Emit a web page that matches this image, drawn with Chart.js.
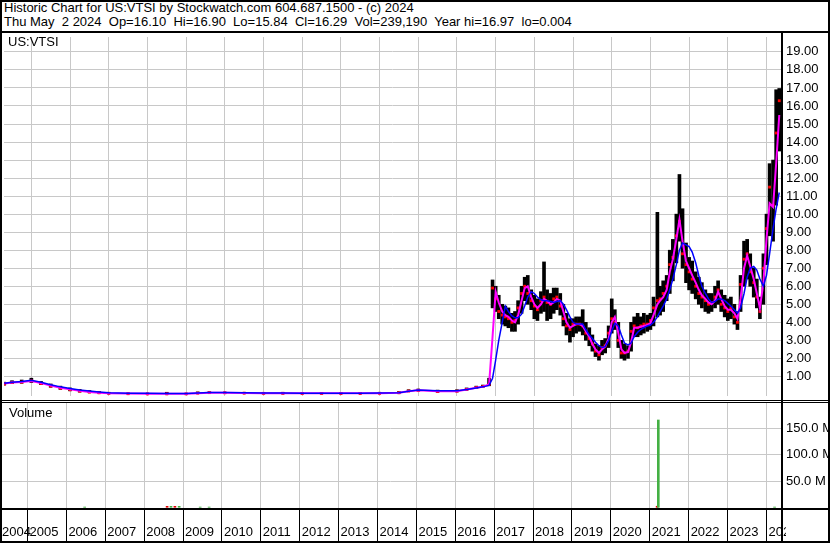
<!DOCTYPE html>
<html>
<head>
<meta charset="utf-8">
<title>Historic Chart for US:VTSI</title>
<script src="https://cdn.jsdelivr.net/npm/chart.js@4.4.1/dist/chart.umd.min.js"></script>
<style>
    html, body { margin: 0; padding: 0; background: #fff; }
    body {
        position: relative;
        width: 830px;
        height: 543px;
        overflow: hidden;
        font-family: 'Liberation Sans', Arial, sans-serif;
        font-size: 13px;
        color: #000;
    }
    canvas { position: absolute; left: 0; }
    #priceChart { top: 33px; }
    #volumeChart { top: 403px; }
    .text { position: absolute; white-space: pre; line-height: 14px; z-index: 3; }
    .rule { position: absolute; background: #000; z-index: 2; }
    #frame {
        position: absolute; left: 0; top: 0; width: 830px; height: 543px;
        box-sizing: border-box; border: 2px solid #000; z-index: 4;
    }
</style>
</head>
<body>
<div class="text" style="left:4px; top:1px;">Historic Chart for US:VTSI by Stockwatch.com 604.687.1500 - (c) 2024
Thu May  2 2024  Op=16.10  Hi=16.90  Lo=15.84  Cl=16.29  Vol=239,190  Year hi=16.97  lo=0.004</div>
<div class="text" style="left:8px; top:35px;">US:VTSI</div>
<div class="text" style="left:9px; top:406px;">Volume</div>

<canvas id="priceChart" width="830" height="367"></canvas>
<canvas id="volumeChart" width="830" height="140"></canvas>

<div class="rule" style="left:0; top:31px; width:830px; height:2px;"></div>
<div class="rule" style="left:781px; top:31px; width:2px; height:512px;"></div>
<div class="rule" style="left:0; top:400px; width:830px; height:1px;"></div>
<div class="rule" style="left:0; top:402px; width:830px; height:1px;"></div>
<div class="rule" style="left:0; top:508px; width:830px; height:2px;"></div>
<div style="position:absolute; left:786px; top:510px; width:42px; height:31px; background:#fff; z-index:1;"></div>
<div id="frame"></div>

<script>
// decimal years; quarterly while the stock sat near zero, monthly after the 2016 jump
const dates = [
    2004.3, 2004.5, 2004.75, 2005.0, 2005.25, 2005.5, 2005.75, 2006.0, 2006.25, 2006.5, 2006.75, 2007.0,
    2007.5, 2008.0, 2008.5, 2009.0, 2009.3, 2009.6, 2010.0, 2010.5, 2011.0, 2011.5, 2012.0, 2012.5,
    2013.0, 2013.5, 2014.0, 2014.5, 2014.75, 2015.0, 2015.5, 2016.0, 2016.25, 2016.5, 2016.67, 2016.83,
    2016.92,
    2017.0, 2017.08, 2017.17, 2017.25, 2017.33, 2017.42, 2017.5, 2017.58, 2017.67, 2017.75, 2017.83, 2017.92,
    2018.0, 2018.08, 2018.17, 2018.25, 2018.33, 2018.42, 2018.5, 2018.58, 2018.67, 2018.75, 2018.83, 2018.92,
    2019.0, 2019.08, 2019.17, 2019.25, 2019.33, 2019.42, 2019.5, 2019.58, 2019.67, 2019.75, 2019.83, 2019.92,
    2020.0, 2020.08, 2020.17, 2020.25, 2020.33, 2020.42, 2020.5, 2020.58, 2020.67, 2020.75, 2020.83, 2020.92,
    2021.0, 2021.08, 2021.18, 2021.25, 2021.33, 2021.42, 2021.5, 2021.58, 2021.67, 2021.75, 2021.83, 2021.92,
    2022.0, 2022.08, 2022.17, 2022.25, 2022.33, 2022.42, 2022.5, 2022.58, 2022.67, 2022.75, 2022.83, 2022.92,
    2023.0, 2023.08, 2023.17, 2023.25, 2023.33, 2023.42, 2023.5, 2023.58, 2023.67, 2023.75, 2023.83, 2023.92,
    2024.0, 2024.08, 2024.17, 2024.25, 2024.33,
];

const lows = [
    0.52, 0.6, 0.62, 0.66, 0.54, 0.4, 0.28, 0.2, 0.13, 0.09, 0.06, 0.03,
    0.02, 0.01, 0.01, 0.01, 0.04, 0.07, 0.06, 0.04, 0.03, 0.03, 0.03, 0.03,
    0.03, 0.03, 0.04, 0.06, 0.15, 0.18, 0.12, 0.14, 0.23, 0.33, 0.4, 0.48,
    4.8,
    4.6, 4.2, 3.9, 3.8, 3.7, 3.5, 3.5, 3.9, 4.5, 5.2, 5.0, 4.7,
    4.2, 4.1, 4.5, 4.6, 4.1, 4.2, 4.5, 4.7, 4.4, 3.8, 3.3, 2.9,
    3.2, 3.4, 3.5, 3.3, 3.0, 2.7, 2.4, 2.1, 1.9, 2.2, 2.3, 2.6,
    3.4, 3.6, 2.6, 2.0, 1.9, 2.0, 2.4, 3.2, 3.2, 3.3, 3.4, 3.5,
    3.6, 3.8, 4.3, 4.4, 4.6, 5.2, 5.6, 6.3, 7.3, 8.5, 7.0, 6.2,
    5.8, 5.6, 5.3, 5.0, 4.8, 4.6, 4.5, 4.6, 4.8, 5.0, 4.6, 4.3,
    4.1, 4.2, 3.9, 3.6, 4.6, 6.0, 6.4, 6.0, 5.4, 4.8, 4.2, 5.0,
    7.2, 8.8, 8.5, 10.5, 13.5,
];

const highs = [
    0.68, 0.76, 0.8, 0.9, 0.72, 0.58, 0.46, 0.36, 0.28, 0.22, 0.17, 0.12,
    0.08, 0.07, 0.12, 0.07, 0.14, 0.15, 0.13, 0.12, 0.11, 0.12, 0.1, 0.1,
    0.1, 0.1, 0.12, 0.16, 0.26, 0.3, 0.24, 0.26, 0.36, 0.46, 0.52, 0.9,
    6.35,
    6.0, 5.5, 5.0, 4.9, 4.8, 4.5, 4.6, 5.2, 6.0, 6.5, 6.6, 5.8,
    5.5, 5.3, 5.7, 7.35, 5.8, 5.6, 5.9, 5.9, 5.6, 5.0, 4.5, 4.2,
    4.2, 4.3, 4.3, 4.7, 4.0, 3.7, 3.3, 2.8, 2.7, 3.0, 3.1, 3.8,
    5.3, 4.7, 4.0, 3.0, 2.8, 2.7, 4.0, 4.3, 4.5, 4.3, 4.5, 4.4,
    4.5, 5.4, 10.1, 6.0, 6.3, 6.6, 8.0, 8.6, 10.0, 12.2, 10.3, 8.4,
    7.6, 7.4, 6.8, 6.5, 6.2, 5.8, 5.6, 5.6, 6.0, 6.3, 5.8, 5.5,
    5.3, 5.4, 5.0, 4.6, 6.6, 8.5, 8.6, 7.8, 7.0, 6.4, 5.4, 7.8,
    10.0, 12.8, 13.0, 16.9, 16.97,
];

const closes = [
    0.58, 0.66, 0.68, 0.76, 0.6, 0.46, 0.34, 0.26, 0.18, 0.13, 0.09, 0.06,
    0.04, 0.03, 0.03, 0.03, 0.07, 0.1, 0.09, 0.07, 0.06, 0.06, 0.05, 0.05,
    0.05, 0.05, 0.06, 0.09, 0.19, 0.23, 0.16, 0.18, 0.28, 0.38, 0.44, 0.55,
    5.9,
    5.3, 4.6, 4.4, 4.3, 4.2, 4.0, 4.1, 4.8, 5.6, 6.0, 5.6, 5.2,
    4.9, 4.7, 5.2, 5.4, 5.1, 5.0, 5.3, 5.4, 4.9, 4.2, 3.8, 3.6,
    3.9, 3.9, 3.9, 3.8, 3.4, 3.1, 2.8, 2.4, 2.2, 2.6, 2.7, 3.4,
    4.2, 4.0, 3.0, 2.3, 2.3, 2.4, 3.5, 3.8, 3.7, 3.8, 3.9, 3.9,
    4.1, 4.8, 5.2, 5.3, 5.6, 6.0, 7.2, 7.6, 8.8, 9.6, 7.8, 7.2,
    6.8, 6.4, 6.0, 5.6, 5.4, 5.2, 5.0, 5.1, 5.4, 5.8, 5.0, 4.8,
    4.6, 4.8, 4.3, 4.0, 6.1, 7.5, 7.8, 6.8, 6.2, 5.4, 4.6, 7.0,
    9.2, 11.5, 10.5, 14.5, 16.29,
];

// magenta short average
const fastAvg = [
    0.6, 0.66, 0.69, 0.75, 0.63, 0.49, 0.37, 0.28, 0.2, 0.14, 0.1, 0.07,
    0.05, 0.04, 0.04, 0.04, 0.07, 0.1, 0.1, 0.08, 0.07, 0.07, 0.06, 0.06,
    0.06, 0.06, 0.07, 0.09, 0.18, 0.23, 0.18, 0.18, 0.27, 0.37, 0.43, 0.55,
    3.2,
    5.7, 5.1, 4.6, 4.4, 4.3, 4.1, 4.0, 4.4, 5.2, 5.9, 6.0, 5.4,
    5.0, 4.8, 5.0, 5.3, 5.2, 5.0, 5.1, 5.3, 5.2, 4.6, 4.0, 3.7,
    3.8, 3.9, 3.9, 3.8, 3.5, 3.2, 2.8, 2.5, 2.3, 2.5, 2.65, 3.1,
    4.0, 4.3, 3.4, 2.5, 2.3, 2.35, 2.9, 3.7, 3.7, 3.75, 3.8, 3.85,
    3.95, 4.4, 5.0, 5.2, 5.4, 5.8, 6.8, 7.5, 8.6, 9.7, 8.5, 7.4,
    7.0, 6.6, 6.2, 5.8, 5.5, 5.3, 5.1, 5.0, 5.2, 5.7, 5.3, 4.9,
    4.7, 4.7, 4.5, 4.2, 5.3, 7.0, 7.7, 7.1, 6.4, 5.6, 4.8, 6.2,
    8.6, 10.6, 10.4, 12.8, 15.5,
];

// blue long average
const slowAvg = [
    0.62, 0.68, 0.72, 0.78, 0.68, 0.54, 0.42, 0.33, 0.25, 0.19, 0.14, 0.1,
    0.07, 0.06, 0.05, 0.05, 0.08, 0.11, 0.11, 0.09, 0.08, 0.08, 0.07, 0.07,
    0.07, 0.07, 0.08, 0.1, 0.18, 0.24, 0.2, 0.2, 0.27, 0.36, 0.42, 0.5,
    0.9,
    1.9, 3.0, 4.0, 4.9, 4.6, 4.35, 4.25, 4.25, 4.45, 4.9, 5.4, 5.7,
    5.6, 5.4, 5.25, 5.2, 5.2, 5.15, 5.1, 5.15, 5.2, 5.0, 4.7, 4.3,
    4.0, 3.9, 3.9, 3.9, 3.6, 3.3, 3.1, 2.9, 2.7, 2.6, 2.65, 3.0,
    3.5, 3.95, 3.8, 3.3, 2.85, 2.75, 2.85, 3.2, 3.45, 3.6, 3.7, 3.8,
    3.85, 4.0, 4.3, 4.6, 4.9, 5.3, 5.8, 6.4, 7.2, 8.0, 8.4, 8.3,
    8.2, 7.9, 7.3, 6.6, 6.0, 5.6, 5.3, 5.1, 5.15, 5.3, 5.3, 5.2,
    5.05, 4.9, 4.7, 4.5, 4.8, 5.6, 6.5, 7.0, 7.1, 6.9, 6.4, 6.0,
    6.6, 7.8, 9.2, 10.3, 11.2,
];

const volDates = [2006.47, 2008.59, 2008.69, 2008.79, 2008.9, 2009.44, 2009.67, 2021.19, 2021.22, 2024.21];
const volumes = [0.5e6, 1.8e6, 1.8e6, 1.8e6, 1.8e6, 0.5e6, 0.5e6, 2e6, 166e6, 0.5e6];
const volUp = [true, false, true, false, true, true, true, false, true, true];

const yearTicks = [2005, 2006, 2007, 2008, 2009, 2010, 2011, 2012, 2013, 2014,
    2015, 2016, 2017, 2018, 2019, 2020, 2021, 2022, 2023, 2024];
const priceTicks = [1, 2, 3, 4, 5, 6, 7, 8, 9, 10, 11, 12, 13, 14, 15, 16, 17, 18, 19];
const volumeTicks = [50e6, 100e6, 150e6];

const xMin = 2004.293;
const xMax = 2024.375;
const gridColor = '#c8c8c8';

document.addEventListener('DOMContentLoaded', () => {
    Chart.defaults.font.family = "'Liberation Sans', Arial, sans-serif";
    Chart.defaults.font.size = 13;
    Chart.defaults.color = '#000';

    const baseOptions = {
        responsive: false,
        animation: false,
        devicePixelRatio: 1,
        events: [],
        layout: { padding: 0 },
        plugins: { legend: { display: false }, tooltip: { enabled: false } },
    };

    // the plot area has to fill the canvas exactly, so drop the label overhang padding
    const noPadding = (scale) => {
        scale.paddingTop = 0;
        scale.paddingBottom = 0;
        scale.paddingLeft = 0;
        scale.paddingRight = 0;
    };

    const rightAxis = (min, max, ticks, format) => ({
        position: 'right',
        min,
        max,
        afterBuildTicks: (scale) => { scale.ticks = ticks.map((value) => ({ value })); },
        afterFit: (scale) => {
            scale.width = 49;
            noPadding(scale);
        },
        grid: { color: gridColor, drawTicks: false },
        border: { display: false },
        ticks: { padding: 5, callback: format },
    });

    const timeAxis = (height, extra) => ({
        type: 'linear',
        min: xMin,
        max: xMax,
        offset: false,
        afterFit: (scale) => {
            scale.height = height;
            noPadding(scale);
        },
        border: { display: false },
        ...extra,
    });

    new Chart(document.getElementById('priceChart'), {
        type: 'bar',
        data: {
            datasets: [
                {
                    type: 'line',
                    data: dates.map((x, i) => ({ x, y: slowAvg[i] })),
                    borderColor: '#0000ff',
                    borderWidth: 1.5,
                    pointRadius: 0,
                    order: 1,
                },
                {
                    type: 'line',
                    data: dates.map((x, i) => ({ x, y: fastAvg[i] })),
                    borderColor: '#ff00ff',
                    borderWidth: 2,
                    pointRadius: 0,
                    order: 2,
                },
                {
                    type: 'line',
                    data: dates.map((x, i) => ({ x, y: closes[i] })),
                    showLine: false,
                    pointStyle: 'rect',
                    pointRadius: 2,
                    pointBorderWidth: 0,
                    pointBackgroundColor: '#ff0000',
                    order: 3,
                },
                {
                    data: dates.map((x, i) => ({ x, y: [lows[i], highs[i]] })),
                    backgroundColor: '#000',
                    barThickness: 3,
                    order: 4,
                },
            ],
        },
        options: {
            ...baseOptions,
            scales: {
                x: timeAxis(0, {
                    afterBuildTicks: (scale) => { scale.ticks = yearTicks.map((value) => ({ value })); },
                    grid: { color: gridColor, drawTicks: false, offset: false },
                    ticks: { display: false },
                }),
                y: rightAxis(-0.087, 19.826, priceTicks, (v) => v.toFixed(2)),
            },
        },
    });

    new Chart(document.getElementById('volumeChart'), {
        type: 'bar',
        data: {
            datasets: [
                {
                    data: volDates.map((x, i) => ({ x, y: volumes[i] })),
                    backgroundColor: volUp.map((up) => (up ? '#44b044' : '#e00000')),
                    barThickness: 2,
                },
            ],
        },
        options: {
            ...baseOptions,
            scales: {
                x: timeAxis(34, {
                    afterBuildTicks: (scale) => {
                        scale.ticks = [xMin, ...yearTicks].map((value) => ({ value }));
                    },
                    grid: { color: gridColor, tickColor: '#000', tickLength: 34, offset: false },
                    ticks: {
                        autoSkip: false,
                        maxRotation: 0,
                        align: 'start',
                        labelOffset: 2,
                        padding: -18,
                        callback: (v) => String(Math.floor(v)),
                    },
                }),
                y: rightAxis(-3.23e6, 198.3e6, volumeTicks, (v) => (v / 1e6).toFixed(1) + ' M'),
            },
        },
    });
});
</script>
</body>
</html>
